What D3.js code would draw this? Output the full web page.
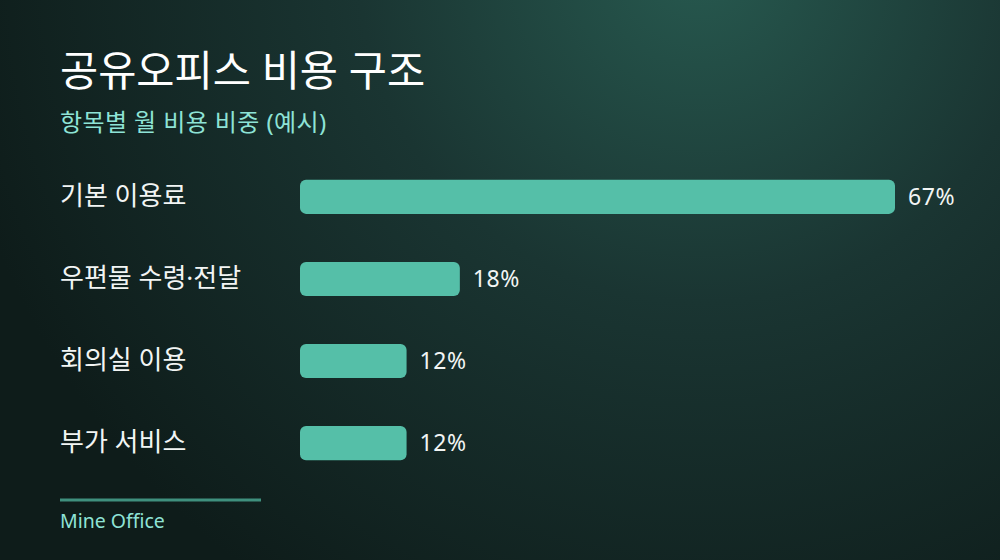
<!DOCTYPE html>
<html>
<head>
<meta charset="utf-8">
<script src="https://cdn.jsdelivr.net/npm/d3@7"></script>
<style>
  html, body { margin: 0; padding: 0; background: #0f1d1b; }
  svg text { font-family: "Noto Sans", "Noto Sans CJK KR", sans-serif; }
</style>
</head>
<body>
<div id="chart"></div>
<script>
const categories = ["기본 이용료", "우편물 수령·전달", "회의실 이용", "부가 서비스"];
const shares = [67, 18, 12, 12];
const valueLabels = ["67%", "18%", "12%", "12%"];

const width = 1000, height = 560;

const svg = d3.select("#chart")
    .append("svg")
    .attr("width", width)
    .attr("height", height);

// Background gradient
const defs = svg.append("defs");
const bg = defs.append("radialGradient")
    .attr("id", "bg")
    .attr("gradientUnits", "userSpaceOnUse")
    .attr("cx", 700).attr("cy", -40).attr("r", 760);
bg.append("stop").attr("offset", "0%").attr("stop-color", "#27594f");
bg.append("stop").attr("offset", "45%").attr("stop-color", "#1a3532");
bg.append("stop").attr("offset", "100%").attr("stop-color", "#0e1c1a");

svg.append("rect")
    .attr("width", width)
    .attr("height", height)
    .attr("fill", "url(#bg)");

// Title and subtitle
svg.append("text")
    .text("공유오피스 비용 구조")
    .attr("x", 60)
    .attr("y", 86)
    .attr("fill", "#ffffff")
    .attr("font-size", 41.5)
    .attr("font-weight", 400);

svg.append("text")
    .text("항목별 월 비용 비중 (예시)")
    .attr("x", 60)
    .attr("y", 131)
    .attr("fill", "#8ee3d6")
    .attr("font-size", 24)
    .attr("letter-spacing", 0.4);

// Scales
const x = d3.scaleLinear()
    .domain([0, 67])
    .range([300, 895]);

const y = d3.scaleBand()
    .domain(categories)
    .range([156, 484])
    .paddingInner(0.585)
    .paddingOuter(0.29);

const rows = categories.map((c, i) => ({ cat: c, value: shares[i], label: valueLabels[i] }));

// Bars
svg.selectAll("rect.bar")
    .data(rows)
    .join("rect")
    .attr("class", "bar")
    .attr("x", x(0))
    .attr("y", d => y(d.cat))
    .attr("width", d => x(d.value) - x(0))
    .attr("height", y.bandwidth())
    .attr("rx", 6)
    .attr("fill", "#55bfa8");

// Category labels
svg.selectAll("text.cat")
    .data(rows)
    .join("text")
    .attr("class", "cat")
    .attr("x", 60)
    .attr("y", d => y(d.cat) + y.bandwidth() / 2)
    .attr("dy", "0.3em")
    .attr("fill", "#f2f5f4")
    .attr("font-size", 26)
    .text(d => d.cat);

// Value labels
svg.selectAll("text.val")
    .data(rows)
    .join("text")
    .attr("class", "val")
    .attr("x", d => x(d.value) + 13)
    .attr("y", d => y(d.cat) + y.bandwidth() / 2)
    .attr("dy", "0.35em")
    .attr("fill", "#f2f5f4")
    .attr("font-size", 23)
    .attr("letter-spacing", 0.6)
    .text(d => d.label);

// Footer
svg.append("line")
    .attr("x1", 60).attr("x2", 261)
    .attr("y1", 500).attr("y2", 500)
    .attr("stroke", "#3f907e")
    .attr("stroke-width", 3);

svg.append("text")
    .text("Mine Office")
    .attr("x", 60)
    .attr("y", 528)
    .attr("fill", "#8ee3d6")
    .attr("font-size", 19.5);
</script>
</body>
</html>
